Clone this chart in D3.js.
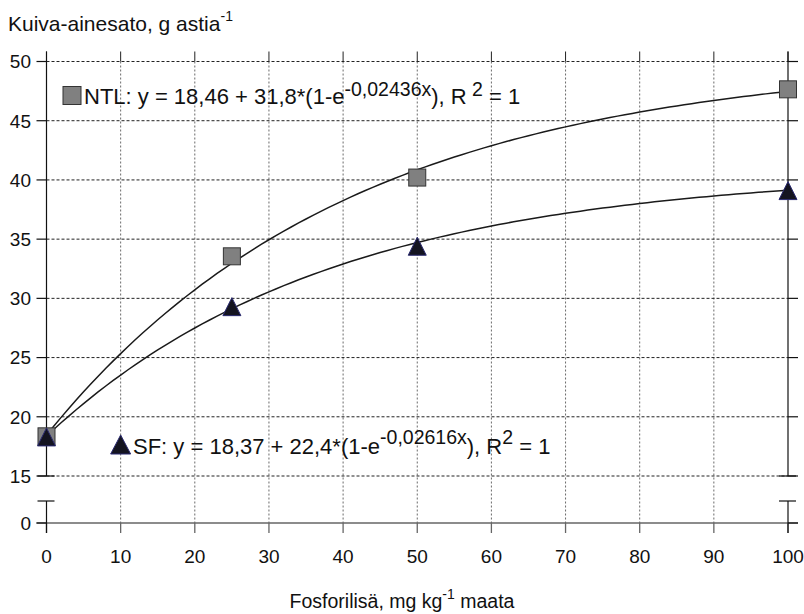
<!DOCTYPE html>
<html>
<head>
<meta charset="utf-8">
<script src="https://cdn.jsdelivr.net/npm/d3@7"></script>
<style>
  body { margin: 0; background: #fff; }
  svg { display: block; }
  text { font-family: "Liberation Sans", Arial, Helvetica, sans-serif; fill: #111; }
</style>
</head>
<body>
<svg id="chart" width="804" height="614"></svg>
<script>
// Phosphorus addition (mg/kg soil) and dry-matter yield (g/pot)
const doses = [0, 25, 50, 100];
const ntlYield = [18.35, 33.55, 40.2, 47.65];
const sfYield = [18.3, 29.3, 34.4, 39.1];

// Fitted curves y = a + b*(1 - e^(-k x)), coefficients as printed in the labels
const ntlFit = [18.46, 31.8, 0.02436];
const sfFit = [18.37, 22.4, 0.02616];

const xTicks = [0, 10, 20, 30, 40, 50, 60, 70, 80, 90, 100];
const yTicks = [15, 20, 25, 30, 35, 40, 45, 50];
const yLowTicks = [0];

const svg = d3.select("#chart");
const TICK_FS = 19;

const x = d3.scaleLinear().domain([0, 100]).range([46.5, 788]);
// broken value axis: 0 sits just below the 15..50 band
const y = d3.scaleLinear().domain([0, 15, 50]).range([523, 476, 61.5]);

const plotL = x(0), plotR = x(100), plotT = y(50), plotB = y(0);
const breakTop = y(15), breakBot = y(15) + 25;

// vertical grid (grey dotted)
svg.append("g").selectAll("line").data(xTicks.slice(1, -1)).join("line")
  .attr("x1", d => x(d)).attr("x2", d => x(d))
  .attr("y1", plotT).attr("y2", plotB)
  .attr("stroke", "#6a6a6a").attr("stroke-width", 1).attr("stroke-dasharray", "2,2");

// horizontal grid (black dotted)
svg.append("g").selectAll("line").data(yTicks).join("line")
  .attr("x1", plotL).attr("x2", plotR)
  .attr("y1", d => y(d)).attr("y2", d => y(d))
  .attr("stroke", "#222").attr("stroke-width", 1).attr("stroke-dasharray", "3,2");

// top tick marks
svg.append("g").selectAll("line").data(xTicks).join("line")
  .attr("x1", d => x(d)).attr("x2", d => x(d))
  .attr("y1", plotT - 10).attr("y2", plotT)
  .attr("stroke", "#222").attr("stroke-width", 1);

// bottom axis line and ticks
svg.append("line").attr("x1", plotL - 10).attr("x2", plotR + 10)
  .attr("y1", plotB).attr("y2", plotB).attr("stroke", "#666").attr("stroke-width", 1.6);
svg.append("g").selectAll("line").data(xTicks).join("line")
  .attr("x1", d => x(d)).attr("x2", d => x(d))
  .attr("y1", plotB).attr("y2", plotB + 10)
  .attr("stroke", "#666").attr("stroke-width", 1.3);

// left and right value axes with break
[plotL, plotR].forEach((ax, i) => {
  const dir = i === 0 ? -1 : 1;
  const g = svg.append("g").attr("stroke", "#111").attr("stroke-width", 1.2);
  g.append("line").attr("x1", ax).attr("x2", ax).attr("y1", plotT - 10).attr("y2", breakTop);
  g.append("line").attr("x1", ax).attr("x2", ax).attr("y1", breakBot).attr("y2", plotB + 10);
  g.selectAll(".tk").data(yTicks.concat(yLowTicks)).join("line")
    .attr("x1", ax).attr("x2", ax + dir * 10)
    .attr("y1", d => y(d)).attr("y2", d => y(d));
  // break caps
  [breakTop, breakBot].forEach(by => {
    g.append("line").attr("x1", ax - 9).attr("x2", ax + 8).attr("y1", by).attr("y2", by);
  });
});

// tick labels
svg.append("g").selectAll("text").data(yTicks.concat(yLowTicks)).join("text")
  .attr("x", 31).attr("y", d => y(d)).attr("dy", "0.36em")
  .attr("text-anchor", "end").attr("font-size", TICK_FS).text(d => d);
svg.append("g").selectAll("text").data(xTicks).join("text")
  .attr("x", d => x(d)).attr("y", 563)
  .attr("text-anchor", "middle").attr("font-size", TICK_FS).text(d => d);

// fitted curves
const curvePts = d3.range(0, 100.01, 1);
const line = d3.line().x(d => x(d[0])).y(d => y(d[1])).curve(d3.curveLinear);
[ntlFit, sfFit].forEach(c => {
  svg.append("path")
    .datum(curvePts.map(t => [t, c[0] + c[1] * (1 - Math.exp(-c[2] * t))]))
    .attr("d", line).attr("fill", "none").attr("stroke", "#1a1a1a").attr("stroke-width", 1.5);
});

// markers
const sq = 17;
svg.append("g").selectAll("rect").data(doses).join("rect")
  .attr("x", (d) => x(d) - sq / 2).attr("y", (d, i) => y(ntlYield[i]) - sq / 2)
  .attr("width", sq).attr("height", sq)
  .attr("fill", "#808080").attr("stroke", "#333").attr("stroke-width", 1);

const triPath = (w, h) => `M0,${-h / 2}L${w / 2},${h / 2}L${-w / 2},${h / 2}Z`;
svg.append("g").selectAll("path").data(doses).join("path")
  .attr("d", triPath(18, 18))
  .attr("transform", (d, i) => `translate(${x(d)},${y(sfYield[i])})`)
  .attr("fill", "#141420").attr("stroke", "#2a2a70").attr("stroke-width", 1);

// equation legends
const EQ_FS = 22, SUP_FS = 19.5;
svg.append("rect").attr("x", 63).attr("y", 86.5).attr("width", 18).attr("height", 18)
  .attr("fill", "#808080").attr("stroke", "#333");
const t1 = svg.append("text").attr("x", 84).attr("y", 103.5).attr("font-size", EQ_FS);
t1.append("tspan").text("NTL: y = 18,46 + 31,8*(1-e");
t1.append("tspan").attr("dy", -8).attr("font-size", SUP_FS).text("-0,02436x");
t1.append("tspan").attr("dy", 8).text("), R");
t1.append("tspan").attr("dy", -8).attr("font-size", SUP_FS).text(" 2");
t1.append("tspan").attr("dy", 8).text(" = 1");

svg.append("path").attr("d", triPath(20, 19))
  .attr("transform", `translate(${x(10)},${444.5})`)
  .attr("fill", "#141420").attr("stroke", "#2a2a70");
const t2 = svg.append("text").attr("x", 133).attr("y", 454).attr("font-size", EQ_FS);
t2.append("tspan").text("SF: y = 18,37 + 22,4*(1-e");
t2.append("tspan").attr("dy", -10).attr("font-size", SUP_FS).text("-0,02616x");
t2.append("tspan").attr("dy", 10).text("), R");
t2.append("tspan").attr("dy", -10).attr("font-size", SUP_FS).text("2");
t2.append("tspan").attr("dy", 10).text(" = 1");

// axis titles
const yt = svg.append("text").attr("x", 8).attr("y", 31).attr("font-size", 21);
yt.append("tspan").text("Kuiva-ainesato, g astia");
yt.append("tspan").attr("dy", -10.5).attr("font-size", 14).text("-1");

const xt = svg.append("text").attr("x", 402).attr("y", 608).attr("font-size", 19.5).attr("text-anchor", "middle");
xt.append("tspan").text("Fosforilisä, mg kg");
xt.append("tspan").attr("dy", -9).attr("font-size", 14).text("-1");
xt.append("tspan").attr("dy", 9).text(" maata");
</script>
</body>
</html>
